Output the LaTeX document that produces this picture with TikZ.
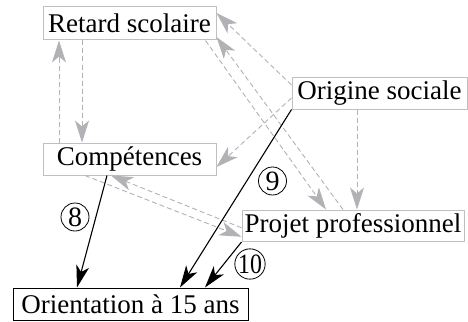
\documentclass[tikz,border=0pt]{standalone}
\usepackage{fontspec}
\setmainfont{Liberation Serif}
\usetikzlibrary{arrows.meta,calc}
\definecolor{boxgray}{RGB}{192,192,192}
\definecolor{arrgray}{RGB}{178,178,182}
\tikzset{
  box/.style={draw=boxgray, line width=1pt, inner sep=0pt, font=\fontsize{27}{30}\selectfont},
  obox/.style={draw=black, line width=1pt, inner sep=0pt, font=\fontsize{27}{30}\selectfont},
  garrow/.style={draw=arrgray, line width=0.9pt, dash pattern=on 5pt off 3pt,
    -{Stealth[length=22pt,width=14pt,inset=6pt,fill=arrgray]}},
  barrow/.style={draw=black, line width=1.1pt,
    -{Stealth[length=22pt,width=13pt,inset=6pt,fill=black]}},
  circnum/.style={circle, draw=black, line width=0.8pt, minimum size=28pt, inner sep=0pt,
    font=\fontsize{28}{30}\selectfont}
}
\begin{document}
\begin{tikzpicture}[x=1pt,y=-1pt]
\useasboundingbox (0,0) rectangle (468,321);
\node[box, minimum width=173pt, minimum height=33pt] (ret) at (129.5,23.5) {Retard scolaire};
\node[box, minimum width=173pt, minimum height=32pt] (comp) at (129.5,159) {Compétences};
\node[box, minimum width=175pt, minimum height=32pt] (orig) at (379.5,93) {Origine sociale};
\node[box, minimum width=222pt, minimum height=31.5pt] (proj) at (353,225.75) {Projet professionnel};
\node[obox, minimum width=235pt, minimum height=32pt] (ori) at (130.5,304) {Orientation à 15 ans};

% gray dashed connectors
\draw[garrow] ([xshift=-47.5pt]ret.south) -- ([xshift=-47.5pt]comp.north);
\draw[garrow] ([xshift=-70.5pt]comp.north) -- ([xshift=-70.5pt]ret.south);
\draw[garrow] ([yshift=8pt]orig.west) -- ([yshift=10.5pt]ret.east);
\draw[garrow] ([xshift=-10pt]proj.north) -- ([yshift=-13.5pt]ret.east);
\draw[garrow] ([xshift=-11pt]ret.south east) -- ([xshift=-27pt]proj.north);
\draw[garrow] ([yshift=-5pt]orig.west) -- ([yshift=-8pt]comp.east);
\draw[garrow] ([xshift=-22.5pt]orig.south) -- ([xshift=-22.5pt]orig.south |- proj.north);
\draw[garrow] ([xshift=-44.5pt]comp.south) -- ([yshift=-11pt]proj.west);
\draw[garrow] ([yshift=-2pt]proj.west) -- ([xshift=-18.5pt]comp.south);

% black connectors
\draw[barrow] ([xshift=-22.5pt]comp.south) -- ([xshift=-53.5pt]ori.north);
\draw[barrow] (orig.south west) -- ([xshift=49.5pt]ori.north);
\draw[barrow] (proj.south west) -- ([xshift=74.5pt]ori.north);

% circled labels
\node[circnum] (n8) at (75,217) {8};
\node[circnum] (n9) at (272.5,181) {9};
\node[circnum] (n10) at (250,264) {\scalebox{0.85}[1]{10}};
\end{tikzpicture}
\end{document}
